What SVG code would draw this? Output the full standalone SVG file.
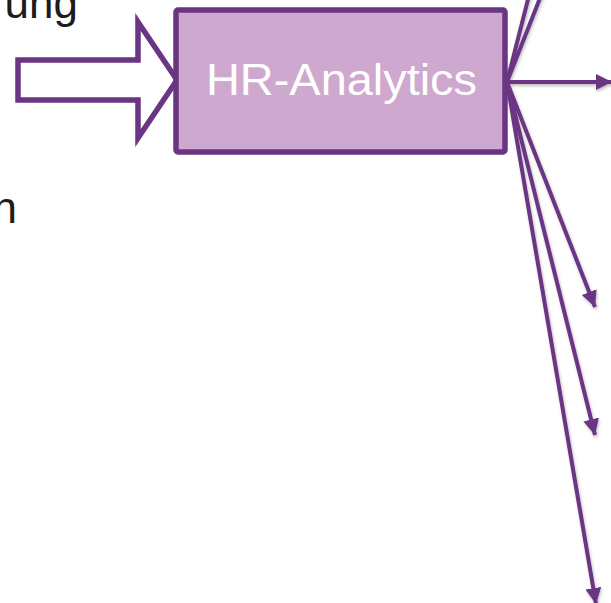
<svg xmlns="http://www.w3.org/2000/svg" width="611" height="603" viewBox="0 0 611 603">
  <style>
    .lbl { font-family: "Liberation Sans", Arial, sans-serif; font-size: 44px; fill: #1c1c1c; }
    .node { fill: #CFA8CF; stroke: #6A3583; stroke-width: 5.5; }
    .hollow { fill: #ffffff; stroke: #6A3583; stroke-width: 5.5; stroke-linejoin: miter; stroke-miterlimit: 10; }
    .conn { fill: none; stroke: #6A3583; stroke-width: 4; }
    .title { font-family: "Liberation Sans", Arial, sans-serif; font-size: 45px; fill: #ffffff; }
  </style>
  <defs>
    <marker id="arr" markerUnits="userSpaceOnUse" markerWidth="18" markerHeight="18" refX="16" refY="8" orient="auto">
      <path d="M0,0 L16,8 L0,16 Z" fill="#6A3583"/>
    </marker>
    <filter id="sh" x="-20%" y="-20%" width="140%" height="140%">
      <feDropShadow dx="1" dy="2" stdDeviation="1.5" flood-color="#000" flood-opacity="0.25"/>
    </filter>
  </defs>

  <g id="text-ung">
    <text class="lbl" x="78" y="18" text-anchor="end">ung</text>
  </g>
  <g id="text-n">
    <text class="lbl" x="17" y="223" text-anchor="end">n</text>
  </g>

  <g id="input-arrow">
    <polygon class="hollow" points="18,60 138,60 138,22 177,80 138,138 138,100 18,100"/>
  </g>

  <g id="connectors" filter="url(#sh)">
    <line class="conn" x1="507" y1="82" x2="538" y2="-40"/>
    <line class="conn" x1="507" y1="82" x2="555" y2="-40"/>
    <line class="conn" x1="507" y1="82" x2="612" y2="82" marker-end="url(#arr)"/>
    <line class="conn" x1="507" y1="82" x2="595" y2="307" marker-end="url(#arr)"/>
    <line class="conn" x1="507" y1="82" x2="595" y2="435" marker-end="url(#arr)"/>
    <line class="conn" x1="507" y1="82" x2="596" y2="604" marker-end="url(#arr)"/>
  </g>

  <g id="hr-analytics">
    <rect class="node" x="176" y="10" width="329" height="142" rx="2"/>
    <text class="title" x="206" y="95" textLength="271" lengthAdjust="spacingAndGlyphs">HR-Analytics</text>
  </g>
</svg>
